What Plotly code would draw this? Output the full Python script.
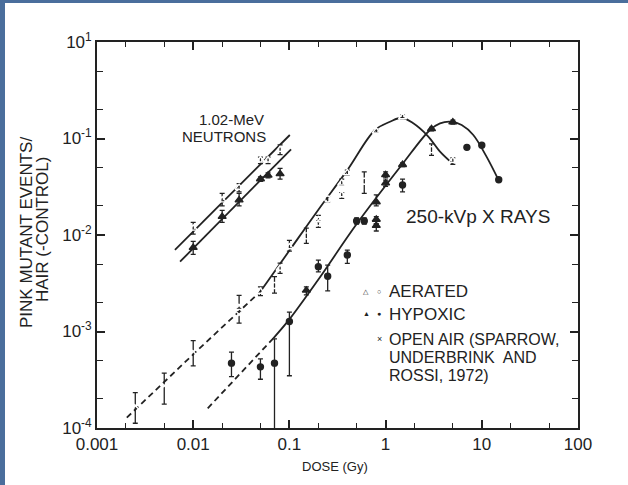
import plotly.graph_objects as go

# ---------------- data ----------------
# 1.02-MeV neutrons
neut_dose = [0.01, 0.02, 0.03, 0.05, 0.06, 0.08]
neut_aer = [0.0117, 0.023, 0.031, 0.0595, 0.0595, 0.0767]
neut_aer_hi = [0.0135, 0.027, 0.034, 0.064, 0.064, 0.086]
neut_aer_lo = [0.0102, 0.020, 0.028, 0.055, 0.055, 0.068]
neut_hyp = [0.0074, 0.0155, 0.023, 0.038, 0.0415, 0.043]
neut_hyp_hi = [0.0086, 0.018, 0.027, 0.040, 0.044, 0.049]
neut_hyp_lo = [0.0063, 0.0135, 0.020, 0.036, 0.039, 0.038]

neut_aer_line_x = [0.00646, 0.101]
neut_aer_line_y = [0.0070, 0.1087]
neut_hyp_line_x = [0.0073, 0.104]
neut_hyp_line_y = [0.00529, 0.0773]

# Open air (Sparrow, Underbrink and Rossi, 1972)
air_dose = [0.0025, 0.005, 0.01, 0.03, 0.03]
air_val = [1.7e-4, 2.74e-4, 6.2e-4, 1.87e-3, 1.5e-3]
air_hi = [2.33e-4, 3.7e-4, 8.05e-4, 2.37e-3, 1.6e-3]
air_lo = [1.12e-4, 1.77e-4, 4.4e-4, 1.75e-3, 1.22e-3]

# 250-kVp X rays, aerated
aer_tri_dose = [0.05, 0.08, 0.1, 0.2, 0.2, 0.35, 0.35, 0.4, 0.8, 1.5, 5.0]
aer_tri_val = [2.6e-3, 4.5e-3, 7.5e-3, 0.0143, 0.0131, 0.0345, 0.026, 0.044, 0.119, 0.167, 0.059]
aer_tri_hi = [2.9e-3, 5.1e-3, 8.8e-3, 0.016, 0.0135, 0.038, 0.0275, 0.047, 0.122, 0.175, 0.063]
aer_tri_lo = [2.35e-3, 4.0e-3, 6.8e-3, 0.014, 0.012, 0.033, 0.024, 0.042, 0.116, 0.16, 0.054]
aer_cir_dose = [0.07, 0.15, 0.25, 0.6, 3.0]
aer_cir_val = [3.0e-3, 9.8e-3, 0.0236, 0.036, 0.0767]
aer_cir_hi = [3.7e-3, 0.0118, 0.025, 0.045, 0.088]
aer_cir_lo = [2.5e-3, 8.2e-3, 0.022, 0.027, 0.067]

# 250-kVp X rays, hypoxic
hyp_cir_dose = [0.025, 0.05, 0.07, 0.1, 0.2, 0.25, 0.4, 0.5, 0.6, 1.5, 7.0, 10.0, 15.0]
hyp_cir_val = [4.7e-4, 4.3e-4, 4.7e-4, 1.27e-3, 4.7e-3, 3.74e-3, 6.2e-3, 0.014, 0.014, 0.033, 0.081, 0.085, 0.0374]
hyp_cir_hi = [6.1e-4, 5.2e-4, 8.4e-4, 1.59e-3, 5.5e-3, 4.87e-3, 6.98e-3, 0.015, 0.015, 0.038, 0.081, 0.085, 0.0374]
hyp_cir_lo = [3.4e-4, 3.2e-4, 1e-6, 3.48e-4, 4.15e-3, 2.63e-3, 5.07e-3, 0.013, 0.013, 0.028, 0.081, 0.085, 0.0374]
hyp_tri_dose = [0.15, 0.8, 0.8, 0.8, 1.0, 1.0, 1.5, 3.0, 5.0]
hyp_tri_val = [2.67e-3, 0.022, 0.0145, 0.0125, 0.042, 0.0345, 0.0535, 0.126, 0.148]
hyp_tri_hi = [2.9e-3, 0.026, 0.0155, 0.013, 0.045, 0.037, 0.056, 0.13, 0.155]
hyp_tri_lo = [2.4e-3, 0.020, 0.013, 0.011, 0.039, 0.032, 0.051, 0.12, 0.141]

# fitted curves
aer_dash_x = [0.00204, 0.01, 0.05]
aer_dash_y = [1.28e-4, 5.8e-4, 2.6e-3]
aer_fit_x = [0.05, 0.1, 0.2, 0.4, 0.776, 1.11, 1.47, 1.94, 2.75, 3.68, 4.93]
aer_fit_y = [2.6e-3, 6.9e-3, 0.0183, 0.047, 0.1225, 0.149, 0.164, 0.1437, 0.106, 0.073, 0.0553]
hyp_dash_x = [0.01416, 0.068]
hyp_dash_y = [1.6e-4, 8.5e-4]
hyp_fit_x = [0.068, 0.0984, 0.2, 0.5, 1.47, 2.89, 3.68, 4.86, 6.18, 8.16, 11.2, 14.9]
hyp_fit_y = [8.5e-4, 1.31e-3, 3.46e-3, 0.013, 0.0531, 0.1225, 0.1437, 0.149, 0.138, 0.1087, 0.0648, 0.0372]

x_tickvals = [0.001, 0.01, 0.1, 1, 10, 100]
x_ticktext = ["0.001", "0.01", "0.1", "1", "10", "100"]
y_tickvals = [1e-4, 1e-3, 1e-2, 1e-1, 1]
y_ticktext = ["10<sup>-4</sup>", "10<sup>-3</sup>", "10<sup>-2</sup>", "10<sup>-1</sup>", "10<sup>1</sup>"]

INK = "#222222"
BLUE = "#4a6e9c"
FONT = "Liberation Sans, Arial, sans-serif"

fig = go.Figure()


def err(val, hi, lo):
    return dict(type="data", symmetric=False,
                array=[h - v for v, h in zip(val, hi)],
                arrayminus=[v - l for v, l in zip(val, lo)],
                color=INK, thickness=1.3, width=2.5)


def line(x, y, dash="solid", shape="spline"):
    fig.add_trace(go.Scatter(x=x, y=y, mode="lines", line=dict(color=INK, width=1.8, dash=dash, shape=shape),
                             hoverinfo="skip", showlegend=False))


line(neut_aer_line_x, neut_aer_line_y, shape="linear")
line(neut_hyp_line_x, neut_hyp_line_y, shape="linear")
line(aer_dash_x, aer_dash_y, dash="6px,4px", shape="linear")
line(aer_fit_x, aer_fit_y)
line(hyp_dash_x, hyp_dash_y, dash="6px,4px", shape="linear")
line(hyp_fit_x, hyp_fit_y)


def pts(x, y, hi, lo, symbol, size=7):
    fig.add_trace(go.Scatter(x=x, y=y, mode="markers",
                             marker=dict(symbol=symbol, size=size, color=INK if "open" not in symbol else "white",
                                         line=dict(color=INK, width=1.4)),
                             error_y=err(y, hi, lo), showlegend=False))


pts(neut_dose, neut_aer, neut_aer_hi, neut_aer_lo, "triangle-up-open")
pts(neut_dose, neut_hyp, neut_hyp_hi, neut_hyp_lo, "triangle-up")
pts(air_dose, air_val, air_hi, air_lo, "x-thin-open", 6)
pts(aer_tri_dose, aer_tri_val, aer_tri_hi, aer_tri_lo, "triangle-up-open")
pts(aer_cir_dose, aer_cir_val, aer_cir_hi, aer_cir_lo, "circle-open", 6)
pts(hyp_cir_dose, hyp_cir_val, hyp_cir_hi, hyp_cir_lo, "circle", 6)
pts(hyp_tri_dose, hyp_tri_val, hyp_tri_hi, hyp_tri_lo, "triangle-up")

# ---------------- layout ----------------
L, R, T, B = 97, 578, 42, 428
W, H = 628, 485


def px(x):
    return (x - L) / (R - L)


def py(y):
    return (B - y) / (B - T)


ann = []


def text(x, y, s, size=17, anchor="center", angle=0):
    ann.append(dict(x=px(x), y=py(y), xref="paper", yref="paper", text=s, showarrow=False,
                    xanchor=anchor, yanchor="middle", textangle=angle, align="center",
                    font=dict(family=FONT, size=size, color=INK)))


text(231, 119.5, "1.02-MeV", size=15)
text(224, 136.5, "NEUTRONS", size=15)
text(478, 217, "250-kVp X RAYS", size=19)
text(387, 291, "AERATED", anchor="left")
text(387, 314, "HYPOXIC", anchor="left")
text(387, 339, "OPEN AIR (SPARROW,", anchor="left", size=16)
text(387, 357, "UNDERBRINK  AND", anchor="left", size=16)
text(387, 375, "ROSSI, 1972)", anchor="left", size=16)
text(366, 291, "△", size=7)
text(379, 291, "○", size=7)
text(366, 313, "▲", size=7)
text(379, 313, "●", size=7)
text(379, 339, "×", size=9)
text(335, 467, "DOSE (Gy)", size=13)
text(26, 233, "PINK MUTANT EVENTS/", size=17, angle=-90)
text(43, 230, "HAIR (-CONTROL)", size=17, angle=-90)

shapes = [
    # blue frame on the left and top
    dict(type="rect", xref="paper", yref="paper", x0=px(-20), x1=px(5), y0=py(H + 20), y1=py(-20),
         fillcolor=BLUE, line=dict(width=0), layer="above"),
    dict(type="rect", xref="paper", yref="paper", x0=px(-20), x1=px(W + 20), y0=py(3), y1=py(-20),
         fillcolor=BLUE, line=dict(width=0), layer="above"),
]

minor_x = [m * 10 ** e for e in range(-3, 2) for m in (2, 5)]
minor_y = [m * 10 ** e for e in range(-4, 0) for m in (2, 5)]

axis_common = dict(type="log", showgrid=False, zeroline=False, showline=True, linecolor=INK, linewidth=1.8,
                   mirror="ticks", ticks="inside", ticklen=8, tickwidth=1.5, tickcolor=INK,
                   tickfont=dict(family=FONT, size=17, color=INK))

fig.update_layout(
    width=W, height=H,
    margin=dict(l=L, r=W - R, t=T, b=H - B),
    paper_bgcolor="white", plot_bgcolor="white",
    xaxis=dict(range=[-3, 2], tickmode="array", tickvals=x_tickvals, ticktext=x_ticktext,
               minor=dict(tickmode="array", tickvals=minor_x, ticks="inside", ticklen=5, tickwidth=1.3, tickcolor=INK),
               **axis_common),
    yaxis=dict(range=[-4, 0], tickmode="array", tickvals=y_tickvals, ticktext=y_ticktext,
               minor=dict(tickmode="array", tickvals=minor_y, ticks="inside", ticklen=6, tickwidth=1.3, tickcolor=INK),
               **axis_common),
    annotations=ann, shapes=shapes, showlegend=False,
)

fig.write_html("out.html")
